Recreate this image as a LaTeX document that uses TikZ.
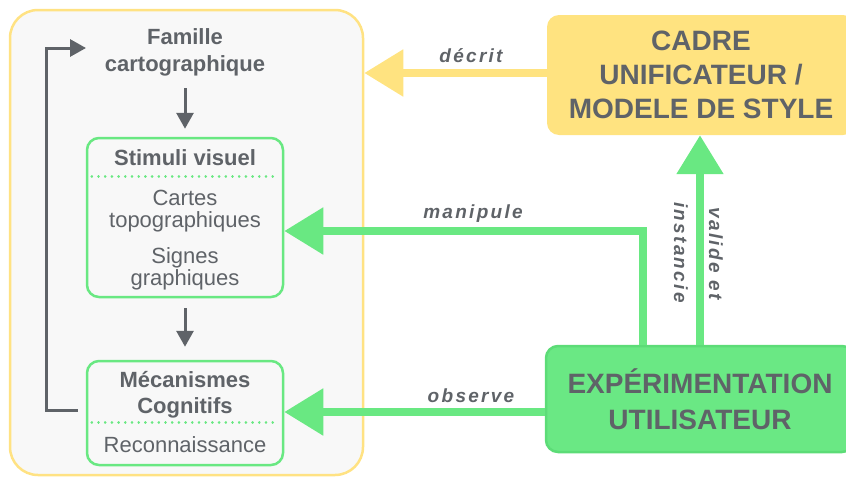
\documentclass[tikz,border=0pt]{standalone}
\usepackage{fontspec}
\setmainfont{Liberation Sans}
\newfontfamily\lblfont[LetterSpace=12]{Liberation Sans}
\usetikzlibrary{arrows.meta}
\definecolor{tgray}{HTML}{5F6368}
\definecolor{cfill}{HTML}{F8F8F8}
\definecolor{ybord}{HTML}{FFE283}
\definecolor{yfill}{HTML}{FFE380}
\definecolor{gline}{HTML}{69E882}
\definecolor{gfill}{HTML}{6AE884}
\definecolor{gbord}{HTML}{5CDC77}
\tikzset{
  smalltxt/.style={text=tgray, anchor=base, inner sep=0pt, font=\fontsize{22}{26}\selectfont},
  smallbold/.style={smalltxt, font=\fontsize{22}{26}\selectfont\bfseries},
  lbl/.style={text=tgray, inner sep=0pt, font=\lblfont\fontsize{19}{22}\selectfont\bfseries\itshape},
  greenbox/.style={draw=gline, line width=2.5pt, rounded corners=12pt, minimum width=196pt, inner sep=0pt},
  bigbox/.style={rounded corners=12pt, minimum width=308pt, inner sep=0pt, align=center,
    text=tgray, font=\fontsize{28}{34}\selectfont\bfseries},
  dotline/.style={draw=gline, line width=2.7pt, line cap=round, dash pattern=on 0.1pt off 6.6pt},
  grayarrow/.style={draw=tgray, line width=3pt, -{Triangle[length=16pt,width=17pt]}},
  yarrow/.style={draw=yfill, line width=8.5pt, -{Triangle[length=39pt,width=45pt]}},
  garrow/.style={draw=gline, line width=8.5pt, -{Triangle[length=39pt,width=45pt]}},
}
\begin{document}
\begin{tikzpicture}[x=1pt,y=-1pt]
\useasboundingbox (0,0) rectangle (846,477);
\clip (0,0) rectangle (846,477);

% left container
\node[draw=ybord, fill=cfill, line width=2.5pt, rounded corners=28pt,
      minimum width=353pt, minimum height=465pt, inner sep=0pt] (container) at (186.5,242.5) {};

% famille
\node[smallbold] (famA) at (185,44) {Famille};
\node[smallbold] (famB) at (185,71) {cartographique};

% stimuli box
\node[greenbox, minimum height=159pt] (stimuli) at (185,217.5) {};
\node[smallbold] (stimT) at (185,165) {Stimuli visuel};
\node[smalltxt] (stimA) at (185,205) {Cartes};
\node[smalltxt] (stimB) at (185,227) {topographiques};
\node[smalltxt] (stimC) at (185,263) {Signes};
\node[smalltxt] (stimD) at (185,285) {graphiques};
\draw[dotline] ([shift={(6,40)}]stimuli.north west) -- ([shift={(-6,40)}]stimuli.north east);

% mecanismes box
\node[greenbox, minimum height=104pt] (meca) at (185,413) {};
\node[smallbold] (mecA) at (185,387) {Mécanismes};
\node[smallbold] (mecB) at (185,413) {Cognitifs};
\node[smalltxt] (mecC) at (185,452) {Reconnaissance};
\draw[dotline] ([shift={(6,63)}]meca.north west) -- ([shift={(-6,63)}]meca.north east);

% gray arrows
\draw[grayarrow] ([shift={(0,17)}]famB.base) -- ([shift={(0,-8)}]stimuli.north);
\draw[grayarrow] ([shift={(0,10)}]stimuli.south) -- ([shift={(0,-13)}]meca.north);
\coordinate (loopS) at ([shift={(-8,-3)}]meca.west);
\coordinate (loopE) at (86,48);
\draw[grayarrow] (loopS) -- (46,410) -- (46,48) -- (loopE);

% right boxes
\node[bigbox, fill=yfill, minimum height=120pt] (cadre) at (701,75) {CADRE\\UNIFICATEUR /\\MODELE DE STYLE};
\node[bigbox, fill=gfill, draw=gbord, line width=2.5pt, minimum height=106pt,
      font=\fontsize{28}{36}\selectfont\bfseries] (exp) at (700,399) {EXPÉRIMENTATION\\UTILISATEUR};

% connectors
\coordinate (decS) at ([shift={(0,-2)}]cadre.west);
\draw[yarrow] (decS) -- (decS -| container.east);
\node[lbl, anchor=base] (decL) at (471,62) {décrit};

\coordinate (manS) at ([shift={(-57,0)}]exp.north);
\coordinate (manE) at ([shift={(0,13.5)}]stimuli.east);
\draw[garrow] (manS) |- (manE);
\node[lbl, anchor=base] (manL) at (473,218) {manipule};

\coordinate (obsS) at ([shift={(0,13)}]exp.west);
\draw[garrow] (obsS) -- (obsS -| meca.east);
\node[lbl, anchor=base] (obsL) at (471,402) {observe};

\draw[garrow] (exp.north) -- (exp.north |- cadre.south);
\node[lbl, rotate=-90] (valL) at (716,253.5) {valide et};
\node[lbl, rotate=-90] (insL) at (681,252.5) {instancie};
\end{tikzpicture}
\end{document}
